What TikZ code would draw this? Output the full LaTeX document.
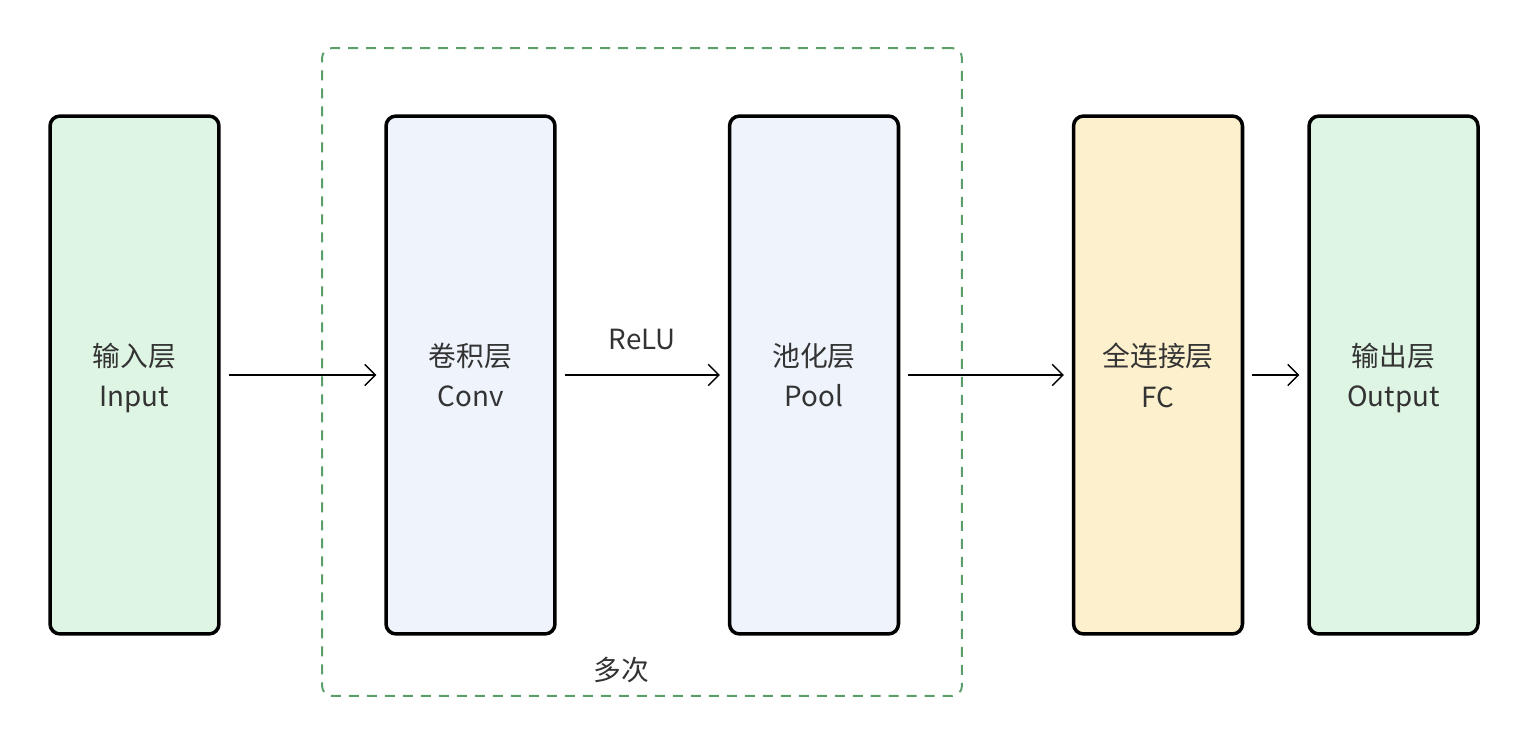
\documentclass[tikz,border=0pt]{standalone}
\usepackage{fontspec}
\setmainfont{Noto Sans CJK SC}
\usepackage{tikz}
\usetikzlibrary{arrows.meta}

\definecolor{txtgray}{HTML}{333333}
\definecolor{ingreen}{HTML}{DFF5E4}
\definecolor{convblue}{HTML}{EEF3FC}
\definecolor{fcyellow}{HTML}{FDF0CC}
\definecolor{dashgreen}{HTML}{5A9E6A}

\begin{document}
\begin{tikzpicture}[x=0.02cm, y=-0.02cm,
  every node/.style={text=txtgray, font=\fontsize{15.8}{23}\selectfont},
  layer/.style={rectangle, rounded corners=0.2cm, draw=black, line width=2pt, minimum width=3.38cm, minimum height=10.36cm, align=center, inner sep=0pt, text depth=0pt},
  flow/.style={-{Straight Barb[length=6pt, width=12pt]}, line width=0.8pt, shorten <=0.16cm, shorten >=0.16cm}]
			\useasboundingbox (0,0) rectangle (1530,746);
			% Repeat block
			\node[rectangle, rounded corners=0.2cm, draw=dashgreen, line width=1.1pt, dash pattern=on 0.2cm off 0.16cm, minimum width=12.8cm, minimum height=12.96cm] (repeat) at (642,372) {};
			\node (times) at (621,670) {多次};
			% Nodes
			\node[layer, fill=ingreen] (input) at (134.5,375) {输入层\\Input};
			\node[layer, fill=convblue] (conv) at (470.5,375) {卷积层\\Conv};
			\node[layer, fill=convblue] (pool) at (814,375) {池化层\\Pool};
			\node[layer, fill=fcyellow] (fc) at (1158,375) {全连接层\\FC};
			\node[layer, fill=ingreen] (output) at (1393.5,375) {输出层\\Output};
			% Edges
			\draw[flow] (input) -- (conv);
			\draw[flow] (conv) -- node[above=0.38cm]{ReLU} (pool);
			\draw[flow] (pool) -- (fc);
			\draw[flow] (fc) -- (output);
		\end{tikzpicture}
\end{document}
